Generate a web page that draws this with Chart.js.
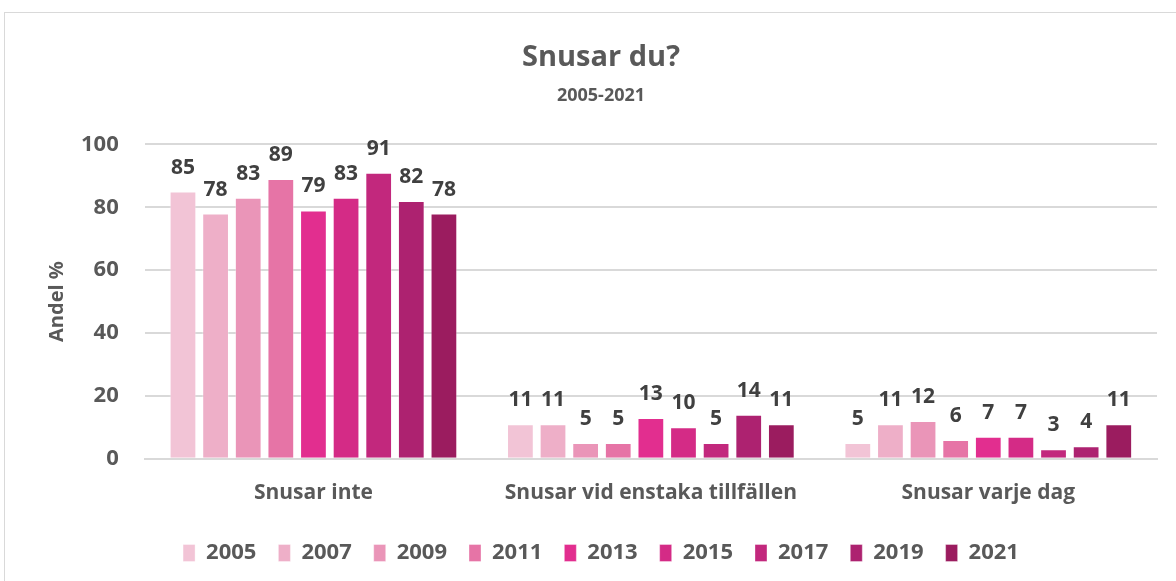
<!DOCTYPE html>
<html>
<head>
<meta charset="utf-8">
<script src="https://cdn.jsdelivr.net/npm/chart.js@4.4.0/dist/chart.umd.min.js"></script>
<style>
  html, body { margin: 0; padding: 0; background: #fff; }
  #wrap { position: absolute; left: 4px; top: 12px; width: 1180px; height: 575px;
          border: 1px solid #d9d9d9; box-sizing: border-box; }
</style>
</head>
<body>
<div id="wrap"><canvas id="canvas"></canvas></div>
<script>
const categories = ["Snusar inte", "Snusar vid enstaka tillfällen", "Snusar varje dag"];
const years = ["2005", "2007", "2009", "2011", "2013", "2015", "2017", "2019", "2021"];
const v2005 = [85, 11, 5];
const v2007 = [78, 11, 11];
const v2009 = [83, 5, 12];
const v2011 = [89, 5, 6];
const v2013 = [79, 13, 7];
const v2015 = [83, 10, 7];
const v2017 = [91, 5, 3];
const v2019 = [82, 14, 4];
const v2021 = [78, 11, 11];
const colors = ["#F2C4D6", "#EEAFC8", "#EA95B8", "#E674A6", "#E22E8F",
                "#D42B86", "#C2287D", "#AD2270", "#9B1C5F"];

const values = [v2005, v2007, v2009, v2011, v2013, v2015, v2017, v2019, v2021];
const font = "'Open Sans', sans-serif";

const sets = [];
for (var i = 0; i < years.length; i++) {
  sets.push({
    label: years[i],
    data: values[i],
    backgroundColor: colors[i],
    borderColor: "rgba(255,255,255,0.35)",
    borderWidth: 1,
    categoryPercentage: 0.87,
    barPercentage: 0.82
  });
}

// data labels above each bar
const valueLabels = {
  id: "valueLabels",
  afterDatasetsDraw(chart) {
    const ctx = chart.ctx;
    ctx.save();
    ctx.font = "bold 21px " + font;
    ctx.fillStyle = "#404040";
    ctx.textAlign = "center";
    ctx.textBaseline = "alphabetic";
    chart.data.datasets.forEach(function(ds, di) {
      chart.getDatasetMeta(di).data.forEach(function(bar, j) {
        ctx.fillText(ds.data[j], bar.x, bar.y - 18);
      });
    });
    ctx.restore();
  }
};

const ctx = document.getElementById("canvas").getContext("2d");
const myChart = new Chart(ctx, {
  type: "bar",
  data: { labels: categories, datasets: sets },
  plugins: [valueLabels],
  options: {
    responsive: true,
    maintainAspectRatio: false,
    animation: false,
    layout: { padding: { left: 40, right: 26, top: 27, bottom: 12 } },
    plugins: {
      title: {
        display: true,
        text: "Snusar du?",
        color: "#595959",
        font: { family: font, size: 29, weight: "bold" },
        padding: { top: 0, bottom: 10 }
      },
      subtitle: {
        display: true,
        text: "2005-2021",
        color: "#595959",
        font: { family: font, size: 18, weight: "bold" },
        padding: { top: 0, bottom: 38 }
      },
      legend: {
        position: "bottom",
        labels: {
          color: "#595959",
          font: { family: font, size: 22, weight: "bold" },
          boxWidth: 12,
          boxHeight: 17,
          padding: 22
        }
      },
      tooltip: { enabled: false }
    },
    scales: {
      x: {
        grid: { display: false },
        border: { color: "#d9d9d9", width: 2 },
        ticks: {
          color: "#595959",
          font: { family: font, size: 21, weight: "bold" },
          padding: 14
        }
      },
      y: {
        min: 0,
        max: 100,
        grid: { color: "#d9d9d9", lineWidth: 2, drawTicks: false },
        border: { display: false },
        ticks: {
          stepSize: 20,
          color: "#595959",
          font: { family: font, size: 22, weight: "bold" },
          padding: 26
        },
        title: {
          display: true,
          text: "Andel %",
          color: "#595959",
          font: { family: font, size: 20, weight: "bold" },
          padding: { top: 0, bottom: -14 }
        }
      }
    }
  }
});
</script>
</body>
</html>
